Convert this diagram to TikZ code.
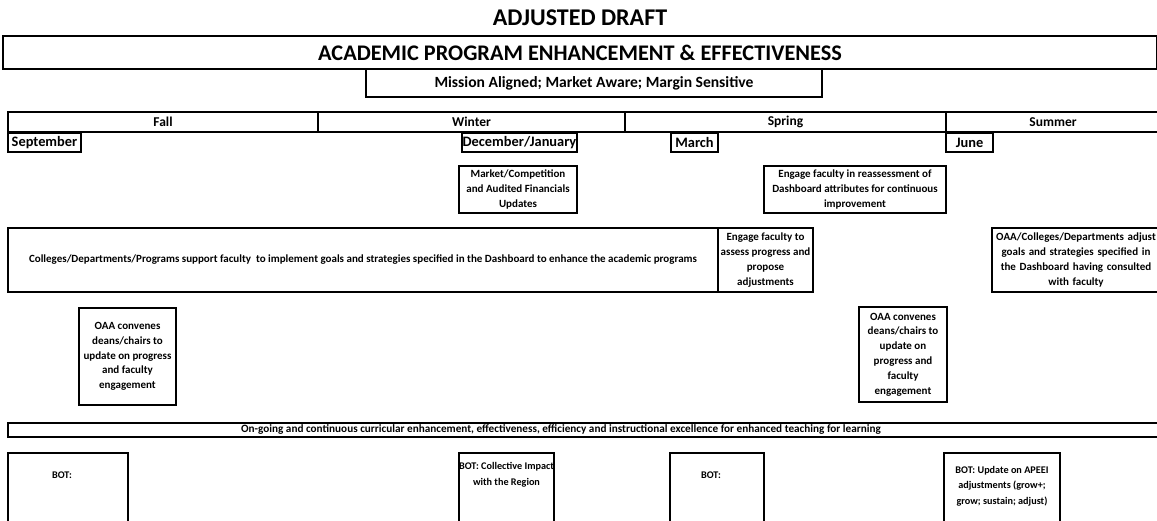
\documentclass[tikz,border=0pt]{standalone}
\usepackage{fontspec}
\setmainfont{Carlito}
\begin{document}
\begin{tikzpicture}
    [
        x=1pt, y=-1pt,
        box/.style={draw, line width=1.6pt, inner sep=0pt, align=center, font=\bfseries\fontsize{11}{14.8}\selectfont},
        season/.style={box, minimum height=20, font=\bfseries\fontsize{13.5}{15}\selectfont},
        month/.style={box, minimum height=19, font=\bfseries\fontsize{14.4}{15}\selectfont},
        plain/.style={inner sep=0pt, align=center, font=\bfseries\fontsize{10.2}{15.5}\selectfont},
    ]
    \useasboundingbox (0,0) rectangle (1157,521);
    \clip (0,0) rectangle (1157,521);

    % headings
    \node[plain, font=\bfseries\fontsize{24}{26}\selectfont] (title) at (580,18) {ADJUSTED DRAFT};
    \node[box, minimum width=1154, minimum height=33, font=\bfseries\fontsize{22.3}{24}\selectfont] (apee) at (580,52.5) {ACADEMIC PROGRAM ENHANCEMENT \& EFFECTIVENESS};
    \node[box, minimum width=456, minimum height=28, font=\bfseries\fontsize{15.6}{17}\selectfont] (mission) at (594,83) {Mission Aligned; Market Aware; Margin Sensitive};

    % seasons and months
    \node[season, minimum width=310] (fall) at (163,122) {Fall};
    \node[season, minimum width=307] (winter) at (471.5,122) {Winter};
    \node[season, minimum width=321] (spring) at (785.5,122) {Spring};
    \node[season, minimum width=214] (summer) at (1053,122) {Summer};
    \node[month, minimum width=73] (sep) at (44.5,142.5) {September};
    \node[month, minimum width=115] (decjan) at (519.5,142.5) {December/January};
    \node[month, minimum width=47] (mar) at (694.5,142.5) {March};
    \node[month, minimum width=47] (jun) at (969.5,142.5) {June};

    % activities
    \node[box, minimum width=118, minimum height=47] (market) at (518,189.5) {Market/Competition\\and Audited Financials\\Updates};
    \node[box, minimum width=182, minimum height=47] (reassess) at (855,189.5) {Engage faculty in reassessment of\\Dashboard attributes for continuous\\improvement};
    \node[box, minimum width=710, minimum height=64, font=\bfseries\fontsize{11}{12}\selectfont] (support) at (363,260) {Colleges/Departments/Programs support faculty\ \ to implement goals and strategies specified in the Dashboard to enhance the academic programs};
    \node[box, minimum width=95, minimum height=64] (assess) at (765.5,260) {Engage faculty to\\assess progress and\\propose\\adjustments};
    \node[box, text width=168, minimum height=64] (adjust) at (1076,260) {\mbox{OAA/Colleges/Departments adjust}\\goals and strategies specified in\\the Dashboard having consulted\\with faculty};
    \node[box, minimum width=97, minimum height=97] (oaafall) at (127.5,356.5) {OAA convenes\\deans/chairs to\\update on progress\\and faculty\\engagement};
    \node[box, minimum width=88, minimum height=95] (oaaspring) at (903,354.5) {OAA convenes\\deans/chairs to\\update on\\progress and\\faculty\\engagement};

    % on-going bar
    \node[box, minimum width=1152, minimum height=14] (ongoing) at (584,430) {};
    \node[plain, font=\bfseries\fontsize{11.2}{12}\selectfont] (ongoingtext) at (561,430) {On-going and continuous curricular enhancement, effectiveness, efficiency and instructional excellence for enhanced teaching for learning};

    % board of trustees
    \node[box, minimum width=120, minimum height=100] (bot1) at (68,503) {};
    \node[box, minimum width=95, minimum height=100] (bot2) at (506.5,503) {};
    \node[box, minimum width=94, minimum height=100] (bot3) at (717,503) {};
    \node[box, minimum width=116, minimum height=100] (bot4) at (1002,503) {};
    \node[plain] (bot1text) at (62,475) {BOT:};
    \node[plain] (bot2text) at (506.5,475) {BOT: Collective Impact\\with the Region};
    \node[plain] (bot3text) at (711,475) {BOT:};
    \node[plain] (bot4text) at (1002,486) {BOT: Update on APEEI\\adjustments (grow+;\\grow; sustain; adjust)};
\end{tikzpicture}
\end{document}
